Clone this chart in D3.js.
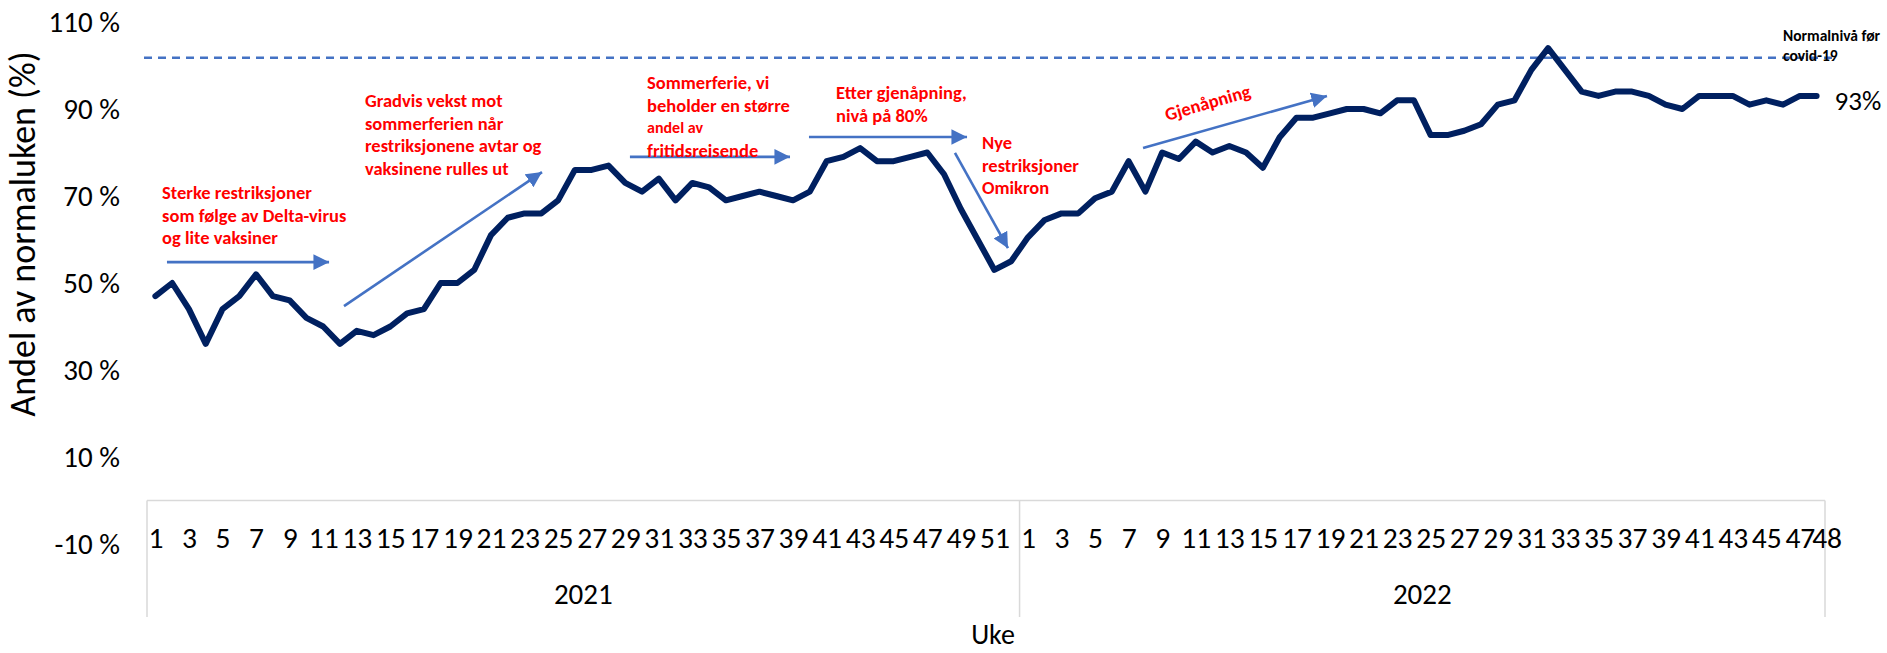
<!DOCTYPE html>
<html><head><meta charset="utf-8">
<script src="https://cdn.jsdelivr.net/npm/d3@7"></script>
<style>body{margin:0;background:#fff} svg{display:block}</style>
</head><body><svg id="c" width="1887" height="653"></svg>
<script>
// ---- data ----
const years = ["2021", "2022"];
const weeks2021 = d3.range(1, 53);
const weeks2022 = d3.range(1, 49);
const values2021 = [47,50,44,36,44,47,52,47,46,42,40,36,39,38,40,43,44,50,50,53,
  61,65,66,66,69,76,76,77,73,71,74,69,73,72,69,70,71,70,69,71,
  78,79,81,78,78,79,80,75,67,60,53,55];
const values2022 = [60.5,64.5,66,66,69.5,71,78,71,80,78.5,82.5,80,81.5,80,76.5,83.5,88,88,89,90,
  90,89,92,92,84,84,85,86.5,91,92,99,104,99,94,93,94,94,93,91,90,
  93,93,93,91,92,91,93,93];
const yTicks = [-10, 10, 30, 50, 70, 90, 110];
const normalLevel = 101.8;
const lastLabel = "93%";

const FONT = 'Carlito, "Liberation Sans Narrow", "Open Sans", sans-serif';

const data = [];
weeks2021.forEach((w,i)=>data.push({year:years[0], week:w, v:values2021[i]}));
weeks2022.forEach((w,i)=>data.push({year:years[1], week:w, v:values2022[i]}));
const idx = data.map((d,i)=>i);

const svg = d3.select("#c");
const x = d3.scalePoint().domain(idx).range([147, 1825]).padding(0.5);
const step = x.step();
const y = d3.scaleLinear().domain([-10, 110]).range([544, 22]);

// y axis
const ya = svg.append("g").attr("transform", `translate(${x.range()[0]},0)`)
  .call(d3.axisLeft(y).tickValues(yTicks).tickSize(0).tickPadding(27).tickFormat(d => d + " %"));
ya.select(".domain").remove();
ya.selectAll("text").attr("font-family", FONT).attr("font-size", 29).attr("fill", "#000");

// y title
svg.append("text").attr("transform", `translate(23,234) rotate(-90)`)
  .attr("text-anchor","middle").attr("dominant-baseline","central")
  .attr("font-family", FONT).attr("font-size", 36).text("Andel av normaluken (%)");

// x axis box
const gridC = "#d9d9d9";
const y0 = y(0);
const xl = x.range()[0], xr = x.range()[1];
const xsep = xl + weeks2021.length * step;
svg.append("line").attr("x1", xl).attr("x2", xr).attr("y1", y0).attr("y2", y0).attr("stroke", gridC).attr("stroke-width", 1.5);
[xl, xsep, xr].forEach(xx => svg.append("line").attr("x1", xx).attr("x2", xx).attr("y1", y0).attr("y2", 617).attr("stroke", gridC).attr("stroke-width", 1.5));

const tickIdx = idx.filter(i => i % 2 === 0).concat([idx.length - 1]);
const xa = svg.append("g").attr("transform", `translate(0,${y0})`)
  .call(d3.axisBottom(x).tickValues(tickIdx).tickSize(0).tickFormat(i => data[i].week));
xa.select(".domain").remove();
xa.selectAll("text").attr("font-family", FONT).attr("font-size", 29.5).attr("fill", "#000")
  .attr("y", 37).attr("dy", "0.35em")
  .attr("dx", i => i === idx.length - 1 ? 10 : 0);

// years
svg.append("text").attr("x", (xl + xsep) / 2).attr("y", 594).attr("text-anchor", "middle").attr("dominant-baseline","central")
  .attr("font-family", FONT).attr("font-size", 29).text(years[0]);
svg.append("text").attr("x", (xsep + xr) / 2).attr("y", 594).attr("text-anchor", "middle").attr("dominant-baseline","central")
  .attr("font-family", FONT).attr("font-size", 29).text(years[1]);
svg.append("text").attr("x", (xl + xr) / 2 + 7).attr("y", 634).attr("text-anchor", "middle").attr("dominant-baseline","central")
  .attr("font-family", FONT).attr("font-size", 28).text("Uke");

// normal level dashed line
const blue = "#4472C4";
svg.append("line").attr("x1", xl - 3).attr("x2", 1833).attr("y1", y(normalLevel)).attr("y2", y(normalLevel))
  .attr("stroke", blue).attr("stroke-width", 2.5).attr("stroke-dasharray", "8,6");
svg.append("text").attr("x", 1783).attr("y", 35).attr("dominant-baseline","central")
  .attr("font-family", FONT).attr("font-size", 15.5).attr("font-weight", "bold").text("Normalnivå før");
svg.append("text").attr("x", 1783).attr("y", 55).attr("dominant-baseline","central")
  .attr("font-family", FONT).attr("font-size", 15.5).attr("font-weight", "bold").text("covid-19");

// line
const line = d3.line().x((d, i) => x(i)).y(d => y(d.v));
svg.append("path").datum(data).attr("d", line).attr("fill", "none")
  .attr("stroke", "#002060").attr("stroke-width", 6).attr("stroke-linejoin", "round").attr("stroke-linecap","round");

// last label
const last = data.length - 1;
svg.append("text").attr("x", x(last) + 18).attr("y", y(data[last].v) + 5).attr("dominant-baseline","central")
  .attr("font-family", FONT).attr("font-size", 27).text(lastLabel);

// annotations (in data space: fractional week index, value)
const fx = i => xl + (i + 0.5) * step;
const defs = svg.append("defs");
defs.append("marker").attr("id","ah").attr("viewBox","0 0 10 10").attr("refX",10).attr("refY",5)
  .attr("markerWidth",6).attr("markerHeight",6).attr("markerUnits","strokeWidth").attr("orient","auto")
  .append("path").attr("d","M0,0L10,5L0,10z").attr("fill", blue);
const arrows = [
  [0.69, 54.8, 10.35, 54.8],
  [11.24, 44.7, 23.04, 75.5],
  [28.28, 79.0, 37.82, 79.0],
  [38.95, 83.57, 48.37, 83.57],
  [47.65, 79.9, 50.81, 58.0],
  [58.86, 81.04, 69.82, 93.0]
];
arrows.forEach(a => svg.append("line").attr("x1", fx(a[0])).attr("y1", y(a[1])).attr("x2", fx(a[2])).attr("y2", y(a[3]))
  .attr("stroke", blue).attr("stroke-width", 2.6).attr("marker-end","url(#ah)"));

const notes = [
  {i: 0.4, v: 70.7, lines: ["Sterke restriksjoner", "som følge av Delta-virus", "og lite vaksiner"]},
  {i: 12.49, v: 91.85, lines: ["Gradvis vekst mot", "sommerferien når", "restriksjonene avtar og", "vaksinene rulles ut"]},
  {i: 29.3, v: 96.0, lines: ["Sommerferie, vi", "beholder en større", "andel av", "fritidsreisende"], small: 2},
  {i: 40.56, v: 93.7, lines: ["Etter gjenåpning,", "nivå på 80%"]},
  {i: 49.26, v: 82.2, lines: ["Nye", "restriksjoner", "Omikron"]}
];
notes.forEach(n => {
  const t = svg.append("text").attr("font-family", FONT).attr("font-weight","bold").attr("fill","#FF0000").attr("font-size", 18.5);
  n.lines.forEach((l, k) => t.append("tspan").attr("x", fx(n.i)).attr("y", y(n.v) + k * 22.4).attr("dominant-baseline","central")
    .attr("font-size", k === n.small ? 16 : 18.5).text(l));
});
svg.append("text").attr("transform", `translate(${fx(60.29)},${y(87.25)}) rotate(-16)`)
  .attr("font-family", FONT).attr("font-weight","bold").attr("fill","#FF0000").attr("font-size", 18.5).text("Gjenåpning");
</script></body></html>
